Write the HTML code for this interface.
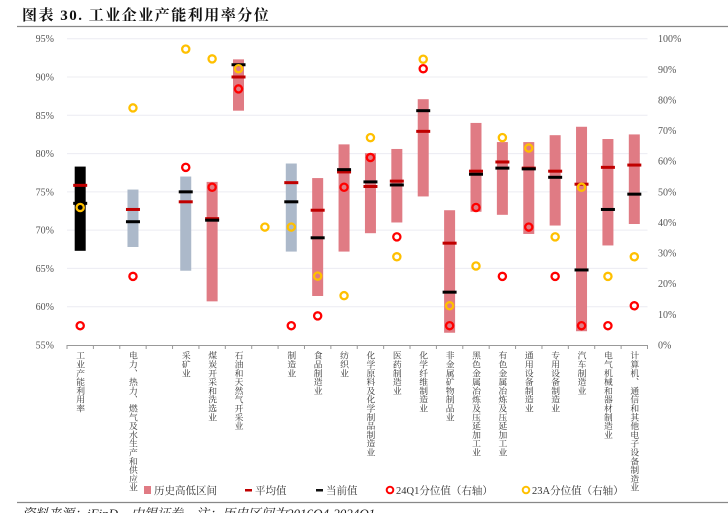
<!DOCTYPE html>
<html><head><meta charset="utf-8"><style>
html,body{margin:0;padding:0;background:#fff;width:728px;height:513px;overflow:hidden;}
svg{display:block;}
</style></head><body>
<svg id="chart" width="728" height="513" xmlns="http://www.w3.org/2000/svg">
<text x="22" y="20" font-family="'Liberation Serif','Noto Serif CJK SC',serif" font-size="15" font-weight="bold" letter-spacing="1.5" fill="#111">图表 30. 工业企业产能利用率分位</text>
<line x1="17" y1="26.5" x2="728" y2="26.5" stroke="#888" stroke-width="1.2"/>
<g id="grid"></g>
<g id="axes"></g>
<g id="marks"></g>
<g id="labels"></g>
<g font-family="'Liberation Serif','Noto Serif CJK SC',serif" font-size="10.5" fill="#333">
 <g><rect x="144" y="486" width="7" height="8" fill="#e07b84"/><text x="154" y="494">历史高低区间</text></g>
 <g><rect x="245" y="489" width="7" height="2.5" fill="#c00000"/><text x="255" y="494">平均值</text></g>
 <g><rect x="316" y="489" width="7" height="2.5" fill="#111"/><text x="326" y="494">当前值</text></g>
 <g><circle cx="390" cy="490" r="3.3" fill="none" stroke="#ff0000" stroke-width="2"/><text x="396" y="494">24Q1分位值（右轴）</text></g>
 <g><circle cx="526" cy="490" r="3.3" fill="none" stroke="#ffc000" stroke-width="2"/><text x="532" y="494">23A分位值（右轴）</text></g>
</g>
<line x1="17" y1="502.5" x2="728" y2="502.5" stroke="#888" stroke-width="1.2"/>
<text x="22" y="518" font-family="'Liberation Serif','Noto Serif CJK SC',serif" font-size="13" font-style="italic" fill="#222">资料来源：iFinD，中银证券　注：历史区间为2016Q4-2024Q1</text>
</svg>
<script>
const categories=["工业产能利用率","","电力、热力、燃气及水生产和供应业","","采矿业","煤炭开采和洗选业","石油和天然气开采业","","制造业","食品制造业","纺织业","化学原料及化学制品制造业","医药制造业","化学纤维制造业","非金属矿物制品业","黑色金属冶炼及压延加工业","有色金属冶炼及压延加工业","通用设备制造业","专用设备制造业","汽车制造业","电气机械和器材制造业","计算机、通信和其他电子设备制造业"];
const rangeLow=[67.3,null,67.8,null,64.7,60.7,85.6,null,67.2,61.4,67.2,69.6,71.0,74.4,56.6,72.4,72.0,69.5,70.6,56.8,68.0,70.8];
const rangeHigh=[78.3,null,75.3,null,77.0,76.3,92.3,null,78.7,76.8,81.2,80.05,80.6,87.1,72.6,84.0,81.5,81.5,82.4,83.5,81.9,82.5];
const avgValues=[75.85,null,72.7,null,73.7,71.5,90.0,null,76.2,72.6,77.6,75.7,76.4,82.9,68.3,77.7,78.9,78.1,77.7,76.0,78.2,78.5];
const currentValues=[73.5,null,71.1,null,75.0,71.3,91.6,null,73.7,69.0,77.9,76.3,75.9,85.6,61.9,77.3,78.1,78.0,76.9,64.8,72.7,74.7];
const pct24Q1=[6.3,null,22.4,null,58.0,51.5,83.6,null,6.3,9.5,51.5,61.2,35.3,90.2,6.3,44.9,22.4,38.5,22.4,6.3,6.3,12.8];
const pct23A=[44.9,null,77.4,null,96.6,93.4,90.2,38.5,38.5,22.5,16.1,67.7,28.8,93.3,12.8,25.8,67.7,64.3,35.3,51.5,22.4,28.8];
const barKind=["black",null,"gray",null,"gray","pink","pink",null,"gray","pink","pink","pink","pink","pink","pink","pink","pink","pink","pink","pink","pink","pink"];
const leftTicks=[55,60,65,70,75,80,85,90,95];
const rightTicks=[0,10,20,30,40,50,60,70,80,90,100];

const NS="http://www.w3.org/2000/svg";
const X0=67,X1=647.5,YT=38.7,YB=345;
const slot=(X1-X0)/categories.length;
const xPos=i=>X0+slot*(i+0.5);
const yL=v=>YB-(v-55)/40*(YB-YT);
const yR=v=>YB-v/100*(YB-YT);
function mk(tag,attrs,parent){const e=document.createElementNS(NS,tag);for(const k in attrs)e.setAttribute(k,attrs[k]);parent.appendChild(e);return e;}
const grid=document.getElementById('grid'),axes=document.getElementById('axes'),marks=document.getElementById('marks'),labels=document.getElementById('labels');
const tf="'Liberation Serif','Noto Serif CJK SC',serif";
leftTicks.forEach(t=>{
  if(t>55){const l=mk('line',{x1:X0,x2:X1,y1:yL(t),y2:yL(t),stroke:'#ececf2','stroke-width':1},grid);
  
  }
  const tx=mk('text',{x:54,y:yL(t)+3.5,'text-anchor':'end','font-family':tf,'font-size':10,fill:'#555'},axes);
  tx.textContent=t+'%';
  
  
});
rightTicks.forEach(t=>{
  const tx=mk('text',{x:658,y:yR(t)+3.5,'font-family':tf,'font-size':10,fill:'#555'},axes);
  tx.textContent=t+'%';
  
  
});
const ax=mk('line',{x1:X0,x2:X1,y1:YB+0.5,y2:YB+0.5,stroke:'#999','stroke-width':1},axes);


for(let i=0;i<=categories.length;i++){
  const tk=mk('line',{x1:X0+slot*i,x2:X0+slot*i,y1:YB,y2:YB+4,stroke:'#999','stroke-width':1},axes);
  
  
}
const colors={black:'#000',gray:'#acb9ca',pink:'#e07b84'};
categories.forEach((c,i)=>{
  const x=xPos(i);
  if(rangeLow[i]!=null){
    const r=mk('rect',{x:x-5.5,y:yL(rangeHigh[i]),width:11,height:yL(rangeLow[i])-yL(rangeHigh[i]),fill:colors[barKind[i]]},marks);
    
    
  }
  if(avgValues[i]!=null){
    const a=mk('rect',{x:x-7,y:yL(avgValues[i])-1.5,width:14,height:3,fill:'#c00000'},marks);
    
    
  }
  if(currentValues[i]!=null){
    const b=mk('rect',{x:x-7,y:yL(currentValues[i])-1.5,width:14,height:3,fill:'#000'},marks);
    
    
  }
  if(pct24Q1[i]!=null){
    const p=mk('circle',{cx:x,cy:yR(pct24Q1[i]),r:3.6,fill:'none',stroke:'#ff0000','stroke-width':2.3},marks);
    
    
  }
  if(pct23A[i]!=null){
    const q=mk('circle',{cx:x,cy:yR(pct23A[i]),r:3.6,fill:'none',stroke:'#ffc000','stroke-width':2.3},marks);
    
    
  }
  if(c){
    const t=mk('text',{x:x,y:351,'font-family':tf,'font-size':8.8,fill:'#333'},labels);
    t.setAttribute('style','writing-mode:vertical-rl;letter-spacing:0px');
    t.textContent=c;
    
    
  }
});
</script>
</body></html>
